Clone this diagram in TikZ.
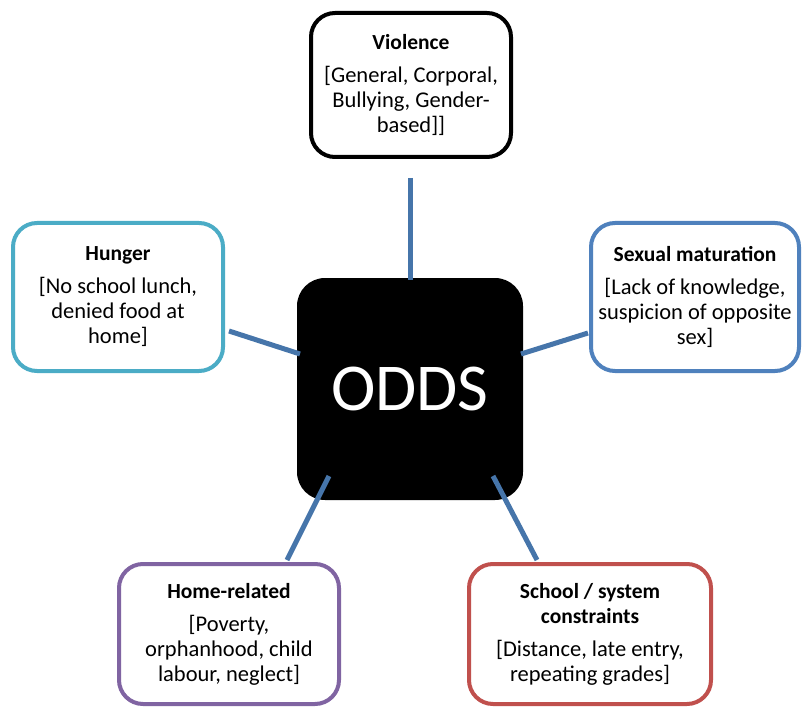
\documentclass[tikz,border=0pt]{standalone}
\usepackage{fontspec}
\setmainfont{Carlito}
\definecolor{conn}{HTML}{4675AA}
\definecolor{cyanb}{HTML}{4BACC6}
\definecolor{blueb}{HTML}{4F81BD}
\definecolor{purpb}{HTML}{8064A2}
\definecolor{redb}{HTML}{C0504D}
\tikzset{
  catbox/.style={draw=#1, line width=4pt, fill=white, rounded corners=24pt, align=center, inner sep=0pt, font=\fontsize{22.5}{25}\selectfont},
  hub/.style={fill=black, rounded corners=28pt, inner sep=0pt, text=white, font=\fontsize{67}{70}\selectfont},
  link/.style={conn, line width=5pt}
}
\newcommand{\ttl}[1]{\textbf{\fontsize{21.5}{25}\selectfont #1}}
\begin{document}
\begin{tikzpicture}[x=1pt,y=-1pt]
\useasboundingbox (0,0) rectangle (802,711);
% center
\node[hub, minimum width=226pt, minimum height=222pt] (odds) at (410,389) {ODDS};
% boxes
\node[catbox=black, minimum width=200pt, minimum height=144pt] (vio) at (411,85)
  {\ttl{Violence}\\[8pt]{}[General, Corporal,\\Bullying, Gender-\\based]]};
\node[catbox=cyanb, minimum width=210pt, minimum height=148pt] (hun) at (118,297)
  {\ttl{Hunger}\\[8pt]{}[No school lunch,\\denied food at\\home]};
\node[catbox=blueb, minimum width=208pt, minimum height=148pt] (sex) at (695,297)
  {\ttl{Sexual maturation}\\[8pt]{}[Lack of knowledge,\\suspicion of opposite\\sex]};
\node[catbox=purpb, minimum width=220pt, minimum height=140pt] (home) at (229,634)
  {\ttl{Home-related}\\[8pt]{}[Poverty,\\orphanhood, child\\labour, neglect]};
\node[catbox=redb, minimum width=242pt, minimum height=140pt] (sch) at (590,634)
  {\ttl{School / system}\\\ttl{constraints}\\[8pt]{}[Distance, late entry,\\repeating grades]};
% connectors
\coordinate (v1) at (410,178); \coordinate (v2) at (410,280);
\draw[link] (v1) -- (v2);
\coordinate (h1) at (229,331); \coordinate (h2) at (300,354);
\draw[link] (h1) -- (h2);
\coordinate (s1) at (521,354); \coordinate (s2) at (588,333);
\draw[link] (s1) -- (s2);
\coordinate (m1) at (329,476); \coordinate (m2) at (287,560);
\draw[link] (m1) -- (m2);
\coordinate (c1) at (493,476); \coordinate (c2) at (537,560);
\draw[link] (c1) -- (c2);
\end{tikzpicture}
\end{document}
